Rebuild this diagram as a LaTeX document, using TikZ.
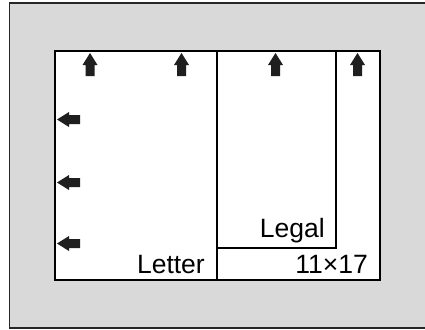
\documentclass[tikz,border=0pt]{standalone}
\usepackage{fontspec}
\setmainfont{Liberation Sans}
\tikzset{
  paperlabel/.style={inner sep=0pt,anchor=base east,font=\fontsize{26.5}{32}\selectfont},
  pics/feedarrow/.style={code={
    \fill[black!88] (0,0) -- (7.5,12) -- (4.5,12) -- (4.5,23) -- (-4.5,23)
      -- (-4.5,12) -- (-7.5,12) -- cycle;}}
}
\begin{document}
\begin{tikzpicture}[x=1pt,y=-1pt]
 \useasboundingbox (0,0) rectangle (425,329);
 % glass
 \filldraw[fill=black!15,draw=black!85,line width=1.5pt] (9.5,3) rectangle (440,328);
 % paper sizes
 \filldraw[fill=white,draw=black,line width=2pt] (55,51) rectangle (380,280);
 \draw[line width=1.3pt] (217,51) -- (217,280);
 \draw[line width=1.3pt] (217,248) -- (336,248) -- (336,51);
 \node[paperlabel] (letter) at (205,273) {Letter};
 \node[paperlabel] (legal) at (325,237) {Legal};
 \node[paperlabel] (tabloid) at (368,273) {11×17};
 % feed direction
 \foreach \x in {90,181.5,275.5,357.5}
  \pic at (\x,53) {feedarrow};
 \foreach \y in {119.5,182.5,243.5}
  \pic[rotate=90] at (57,\y) {feedarrow};
\end{tikzpicture}
\end{document}
